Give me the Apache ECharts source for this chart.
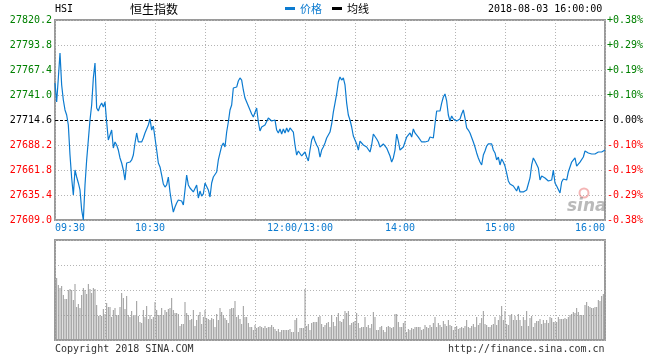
<!DOCTYPE html>
<html>
<head>
<meta charset="utf-8">
<script src="https://cdn.jsdelivr.net/npm/echarts@6/dist/echarts.min.js"></script>
<style>
html,body{margin:0;padding:0;background:#fff;}
#chart{width:660px;height:360px;}
</style>
</head>
<body>
<div id="chart"></div>
<script>
// ---------------- data ----------------
const stockCode = 'HSI';
const stockName = '恒生指数';
const dateTime = '2018-08-03 16:00:00';
const legendNames = ['价格', '均线'];
const copyrightText = 'Copyright 2018 SINA.COM';
const siteText = 'http://finance.sina.com.cn';

const prevClose = 27714.6;
const priceMin = 27609.0;
const priceMax = 27820.2;
const priceStep = 26.4;

// minute index 0..330 (09:30-12:00 = 0..150, 13:00-16:00 = 150..330)
const xTickMinutes = [0, 60, 150, 210, 270, 330];
const xTickLabels = ['09:30', '10:30', '12:00/13:00', '14:00', '15:00', '16:00'];

const prices = [
27753.7,27733.6,27759.0,27785.4,27751.6,27735.7,27725.2,27719.9,27709.3,27677.6,
27653.4,27635.4,27661.8,27654.4,27648.1,27640.7,27619.6,27609.0,27646.0,27672.4,
27693.5,27714.6,27730.4,27759.0,27774.8,27727.3,27724.1,27729.4,27732.5,27728.3,
27733.6,27712.5,27693.5,27698.8,27704.0,27685.0,27691.4,27688.2,27682.9,27674.5,
27669.2,27661.8,27651.2,27669.2,27667.1,27670.2,27672.4,27677.6,27690.3,27700.9,
27691.4,27693.5,27691.4,27695.6,27700.9,27703.0,27709.3,27715.7,27704.0,27708.3,
27706.2,27682.9,27669.2,27665.0,27656.5,27647.0,27643.8,27646.0,27654.4,27638.6,
27627.0,27617.4,27622.7,27627.0,27630.1,27631.2,27629.1,27624.8,27640.7,27656.5,
27646.0,27642.8,27640.7,27638.6,27636.5,27646.0,27632.2,27639.6,27634.3,27636.5,
27648.1,27647.0,27640.7,27633.3,27648.1,27654.4,27655.5,27659.7,27672.4,27679.8,
27687.1,27690.3,27686.1,27701.9,27712.5,27725.2,27730.4,27748.4,27749.4,27749.4,
27755.8,27759.0,27756.8,27746.3,27737.8,27733.6,27731.5,27725.2,27720.9,27717.8,
27718.8,27727.3,27712.5,27703.0,27707.2,27706.2,27709.3,27711.4,27716.7,27715.7,
27713.5,27713.5,27714.6,27704.0,27700.9,27705.1,27699.8,27705.1,27700.9,27706.2,
27701.9,27706.2,27705.1,27701.9,27688.2,27677.6,27681.9,27680.8,27676.6,27678.7,
27680.8,
27675.5,27671.3,27682.9,27693.5,27697.7,27692.4,27688.2,27685.0,27675.5,27682.9,
27686.1,27690.3,27695.6,27697.7,27701.9,27710.4,27723.0,27732.5,27742.1,27754.7,
27760.0,27756.8,27759.0,27751.6,27732.5,27719.9,27714.6,27707.2,27697.7,27696.6,
27689.3,27682.9,27692.4,27692.4,27688.2,27690.3,27686.1,27684.0,27680.8,27688.2,
27699.8,27697.7,27694.5,27691.4,27686.1,27687.1,27689.3,27689.3,27685.0,27680.8,
27676.6,27670.2,27674.5,27682.9,27699.8,27692.4,27682.9,27680.8,27686.1,27691.4,
27696.6,27697.7,27700.9,27696.6,27705.1,27700.9,27699.8,27696.6,27696.6,27691.4,
27690.3,27691.4,27690.3,27692.4,27696.6,27697.7,27695.6,27710.4,27724.1,27726.2,
27724.1,27732.5,27738.9,27742.1,27734.7,27719.9,27713.5,27718.8,27715.7,27714.6,
27713.5,27711.4,27715.7,27720.9,27725.2,27716.7,27706.2,27704.0,27700.9,27698.8,
27691.4,27686.1,27679.8,27674.5,27670.2,27667.1,27677.6,27681.9,27687.1,27689.3,
27688.2,27689.3,27682.9,27679.8,27672.4,27675.5,27667.1,27673.4,27670.2,27666.0,
27658.6,27650.2,27647.0,27647.0,27644.9,27647.0,27639.6,27644.9,27638.6,27639.6,
27638.6,27639.6,27640.7,27641.7,27653.4,27667.1,27674.5,27671.3,27669.2,27663.9,
27651.2,27655.5,27654.4,27653.4,27652.3,27650.2,27651.2,27651.2,27661.8,27648.1,
27644.9,27642.8,27637.5,27649.1,27652.3,27651.2,27651.2,27659.7,27665.0,27670.2,
27671.3,27674.5,27666.0,27668.1,27670.2,27669.2,27675.5,27681.9,27682.9,27679.8,
27678.7,27678.7,27679.8,27678.7,27679.8,27680.8,27679.8,27680.8,27681.9,27682.9
];

const volumes = [
60,62,55,52,54,45,41,41,50,51,
50,40,56,33,36,32,45,52,50,46,
56,51,47,52,51,35,24,25,24,31,
26,37,33,33,23,30,32,25,25,33,
47,42,31,44,25,23,29,24,25,39,
24,18,17,30,23,34,21,25,21,23,
38,30,25,25,32,25,30,28,31,32,
42,30,27,27,26,14,16,16,38,27,
25,20,21,30,14,20,25,28,16,23,
30,22,21,20,22,21,13,26,20,32,
28,25,22,20,17,31,32,32,39,23,
25,21,16,34,23,23,17,13,13,10,
15,12,13,14,13,12,14,12,13,13,
15,13,11,9,11,8,10,10,10,10,
10,11,8,8,20,22,8,12,12,12,
51,
14,16,10,17,18,18,18,23,24,16,
13,15,17,18,13,25,18,14,23,27,
19,18,21,29,27,29,15,17,18,19,
27,17,12,13,13,23,13,15,12,16,
28,23,10,10,13,14,10,8,13,14,
13,12,13,26,26,18,13,13,17,19,
8,11,10,12,11,13,13,13,13,10,
11,15,13,12,15,13,17,23,13,17,
15,13,19,16,14,20,15,14,10,13,
14,11,12,13,12,14,20,13,12,14,
16,13,23,15,17,22,29,16,15,13,
13,15,16,23,15,20,24,34,20,29,
16,15,25,26,20,24,20,26,20,14,
23,20,29,14,22,24,13,17,19,19,
21,16,20,17,20,17,23,22,18,18,
18,23,21,21,21,22,21,23,25,26,
28,27,32,28,25,25,25,35,38,34,
33,32,32,33,33,40,39,44,46,59
];

// ---------------- style ----------------
const MONO = '"DejaVu Sans Mono", "Liberation Mono", monospace';
const CJK = '"Noto Sans CJK SC", "Noto Sans", sans-serif';
const BLUE = '#0c7bd0';
const GRID_LINE = { show: true, lineStyle: { color: '#b4b4b4', type: [1, 2], width: 1 } };
const UP = '#008000', DOWN = '#ff0000';

function levelColor(v) {
  v = parseFloat(v);
  if (v > prevClose + 1e-6) return UP;
  if (v < prevClose - 1e-6) return DOWN;
  return '#000';
}
function pctLabel(v) {
  const pct = (v - prevClose) / prevClose * 100;
  const s = Math.abs(pct).toFixed(2);
  if (s === '0.00') return '0.00%';
  return (pct > 0 ? '+' : '-') + s + '%';
}

const chart = echarts.init(document.getElementById('chart'), null, { renderer: 'canvas' });

const priceData = prices.map((p, i) => [i, p]);
const volData = volumes.map((v, i) => [i, v]);
const lastTick = xTickMinutes.length - 1;

const option = {
  animation: false,
  backgroundColor: '#fff',
  title: [
    { text: stockCode, left: 55, top: 4, padding: 0,
      textStyle: { fontFamily: MONO, fontSize: 10, fontWeight: 'normal', color: '#000' } },
    { text: stockName, left: 130, top: 3, padding: 0,
      textStyle: { fontFamily: CJK, fontSize: 12, fontWeight: 'normal', color: '#000' } },
    { text: dateTime, left: 488, top: 4, padding: 0,
      textStyle: { fontFamily: MONO, fontSize: 10, fontWeight: 'normal', color: '#000' } },
    { text: copyrightText, left: 55, top: 344, padding: 0,
      textStyle: { fontFamily: MONO, fontSize: 10, fontWeight: 'normal', color: '#333' } },
    { text: siteText, left: 448, top: 344, padding: 0,
      textStyle: { fontFamily: MONO, fontSize: 10, fontWeight: 'normal', color: '#333' } }
  ],
  legend: {
    left: 285, top: 3, padding: 0, itemGap: 10,
    itemWidth: 10, itemHeight: 3, icon: 'rect', selectedMode: false,
    textStyle: { fontFamily: CJK, fontSize: 11 },
    data: [
      { name: legendNames[0], textStyle: { color: BLUE } },
      { name: legendNames[1], textStyle: { color: '#000' } }
    ]
  },
  grid: [
    { left: 55, top: 20, width: 550, height: 200, show: true, borderColor: '#9a9a9a', borderWidth: 2, containLabel: false },
    { left: 55, top: 240, width: 550, height: 100, show: true, borderColor: '#9a9a9a', borderWidth: 2, containLabel: false }
  ],
  xAxis: [
    {
      type: 'value', gridIndex: 0, min: 0, max: 330, interval: 30,
      axisLine: { show: false }, axisTick: { show: false },
      splitLine: GRID_LINE,
      axisLabel: {
        show: true, margin: 3, showMinLabel: true, showMaxLabel: true,
        alignMinLabel: 'left', alignMaxLabel: 'right',
        fontFamily: MONO, fontSize: 10, color: BLUE,
        formatter: function (v) {
          const i = xTickMinutes.indexOf(Math.round(v));
          if (i < 0) return '';
          const t = xTickLabels[i];
          if (i === 0 || i === lastTick) return '{e|' + t + '}';
          return '{c|' + t + '}';
        },
        rich: {
          e: { fontFamily: MONO, fontSize: 10, color: BLUE },
          c: { fontFamily: MONO, fontSize: 10, color: BLUE, padding: [0, 10, 0, 0] }
        }
      }
    },
    {
      type: 'value', gridIndex: 1, min: 0, max: 330, interval: 30,
      axisLine: { show: false }, axisTick: { show: false }, axisLabel: { show: false },
      splitLine: GRID_LINE
    }
  ],
  yAxis: [
    {
      type: 'value', gridIndex: 0, position: 'left',
      min: priceMin, max: priceMax, interval: priceStep,
      axisLine: { show: false }, axisTick: { show: false },
      splitLine: GRID_LINE,
      axisLabel: {
        show: true, margin: 3, showMinLabel: true, showMaxLabel: true,
        fontFamily: MONO, fontSize: 10, padding: [0, 0, 8, 0],
        color: levelColor,
        formatter: v => Number(v).toFixed(1)
      }
    },
    {
      type: 'value', gridIndex: 0, position: 'right',
      min: priceMin, max: priceMax, interval: priceStep,
      axisLine: { show: false }, axisTick: { show: false },
      splitLine: { show: false },
      axisLabel: {
        show: true, margin: 38, align: 'right', showMinLabel: true, showMaxLabel: true,
        fontFamily: MONO, fontSize: 10, padding: [0, 0, 8, 0],
        color: levelColor,
        formatter: pctLabel
      }
    },
    {
      type: 'value', gridIndex: 1, min: 0, max: 100, interval: 25,
      axisLine: { show: false }, axisTick: { show: false }, axisLabel: { show: false },
      splitLine: GRID_LINE
    }
  ],
  graphic: [
    { type: 'circle', silent: true, z: 1,
      shape: { cx: 584, cy: 193, r: 4.5 },
      style: { fill: 'rgba(255,255,255,0)', stroke: 'rgba(235,120,120,0.55)', lineWidth: 2 } },
    { type: 'text', silent: true, z: 1, left: 567, top: 198,
      style: { text: 'sina', font: 'italic bold 17px "DejaVu Sans"', fill: 'rgba(140,140,140,0.6)' } }
  ],
  series: [
    {
      name: legendNames[0], type: 'line', xAxisIndex: 0, yAxisIndex: 0,
      data: priceData, showSymbol: false, symbol: 'none',
      lineStyle: { color: BLUE, width: 1.2 }, itemStyle: { color: BLUE },
      z: 5,
      markLine: {
        silent: true, symbol: 'none', animation: false,
        label: { show: false },
        lineStyle: { color: '#000', type: [3, 2], width: 1 },
        data: [{ yAxis: prevClose }]
      }
    },
    {
      name: legendNames[1], type: 'line', xAxisIndex: 0, yAxisIndex: 0,
      data: [], showSymbol: false,
      lineStyle: { color: '#000', width: 1 }, itemStyle: { color: '#000' }
    },
    {
      name: 'volume', type: 'bar', xAxisIndex: 1, yAxisIndex: 2,
      data: volData, barWidth: 1,
      itemStyle: { color: '#999' }
    }
  ]
};
chart.setOption(option);
</script>
</body>
</html>
